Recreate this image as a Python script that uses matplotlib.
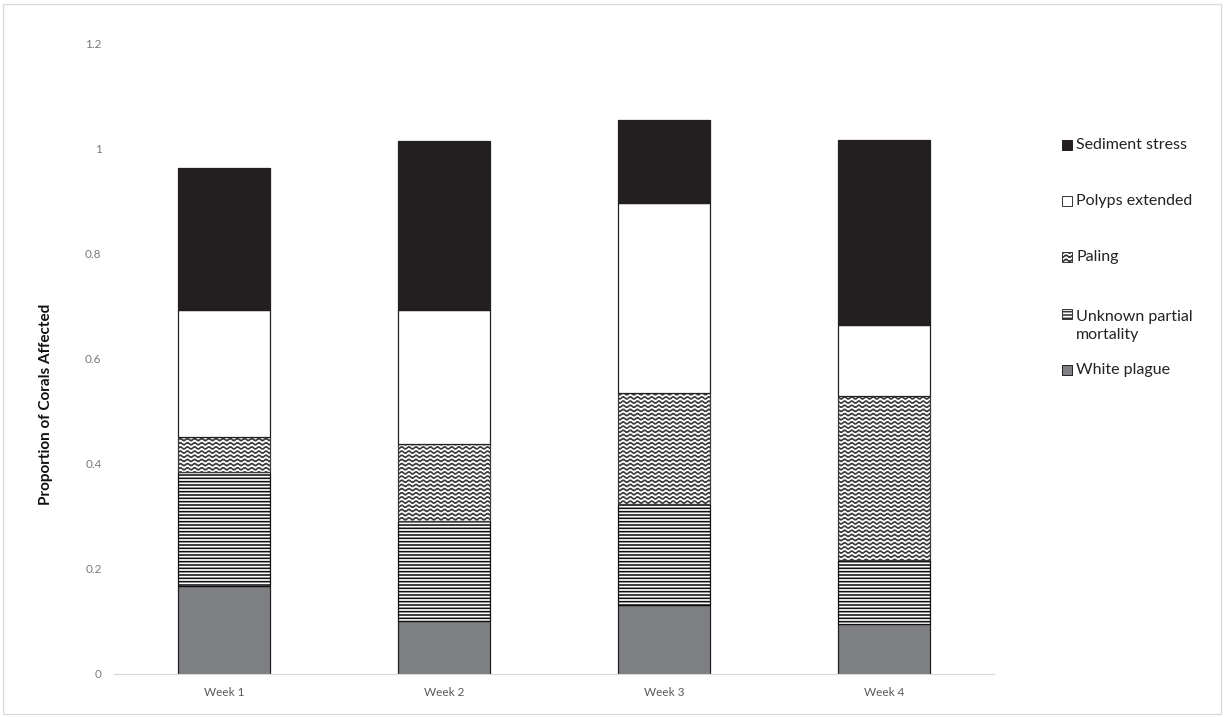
import warnings

import numpy as np
import matplotlib
matplotlib.use("Agg")
import matplotlib.pyplot as plt
import matplotlib.hatch as mhatch
from matplotlib.path import Path
from matplotlib.patches import Rectangle

warnings.filterwarnings("ignore")

# ---- data -------------------------------------------------------------
weeks = ["Week 1", "Week 2", "Week 3", "Week 4"]
white_plague = [0.167, 0.101, 0.131, 0.095]
unknown_partial_mortality = [0.217, 0.190, 0.192, 0.122]
paling = [0.067, 0.146, 0.211, 0.311]
polyps_extended = [0.242, 0.256, 0.362, 0.135]
sediment_stress = [0.270, 0.321, 0.158, 0.353]

y_ticks = [0, 0.2, 0.4, 0.6, 0.8, 1.0, 1.2]
y_tick_labels = ["0", "0.2", "0.4", "0.6", "0.8", "1", "1.2"]


# ---- a wavy hatch ('~') -------------------------------------------------
class WavyHatch(mhatch.HatchPatternBase):
    """Rows of small sine waves; each '~' adds `density` rows per tile."""

    def __init__(self, hatch, density):
        self.num_rows = hatch.count("~") * density
        self.periods = 14
        self.samples = self.periods * 6 + 1
        self.num_vertices = self.num_rows * self.samples

    def set_vertices_and_codes(self, vertices, codes):
        x = np.linspace(0.0, 1.0, self.samples)
        amp = 0.28 / self.num_rows
        for i in range(self.num_rows):
            rows = slice(i * self.samples, (i + 1) * self.samples)
            vertices[rows, 0] = x
            vertices[rows, 1] = ((i + 0.5) / self.num_rows
                                 + amp * np.sin(2 * np.pi * self.periods * x))
            codes[rows] = Path.LINETO
            codes[i * self.samples] = Path.MOVETO


mhatch._hatch_types.append(WavyHatch)

plt.rcParams["font.family"] = ["Lato", "DejaVu Sans"]
plt.rcParams["hatch.linewidth"] = 1.15

W, H = 1225, 717
fig = plt.figure(figsize=(W / 100, H / 100), dpi=100)
ax = fig.add_axes([114 / W, 43 / H, 880 / W, 631 / H])

# series drawn bottom to top: (label, values, face, edge, hatch)
series = [
    ("White plague", white_plague, "#7f8083", "#222222", None),
    ("Unknown partial\nmortality", unknown_partial_mortality, "white", "#111111", "-----"),
    ("Paling", paling, "white", "#3a3a3a", "~~~~"),
    ("Polyps extended", polyps_extended, "white", "#222222", None),
    ("Sediment stress", sediment_stress, "#231f20", "#231f20", None),
]

x = np.arange(len(weeks))
bottom = np.zeros(len(weeks))
for label, vals, face, edge, hatch in series:
    ax.bar(x, vals, width=0.415, bottom=bottom, color=face,
           edgecolor=edge, hatch=hatch, linewidth=0.9, zorder=2)
    bottom += np.asarray(vals)

ax.set_xlim(-0.5, len(weeks) - 0.5)
ax.set_ylim(0, 1.2)
ax.set_xticks(x)
ax.set_xticklabels(weeks)
ax.set_yticks(y_ticks)
ax.set_yticklabels(y_tick_labels)
ax.tick_params(axis="both", length=0, labelsize=8.5)
ax.tick_params(axis="y", pad=9, labelcolor="#7a7a7a")
ax.tick_params(axis="x", pad=9, labelcolor="#595959")
for side in ("top", "right", "left"):
    ax.spines[side].set_visible(False)
ax.spines["bottom"].set_color("#d9d9d9")
ax.spines["bottom"].set_linewidth(0.9)

fig.text(46 / W, 1 - 404 / H, "Proportion of Corals Affected",
         rotation=90, ha="center", va="center", fontsize=11,
         fontweight="bold", color="#111111")

# ---- legend (top to bottom, reversed stacking order) ----------------------
entry_rows = [145, 201, 257, 314, 370]
for (label, vals, face, edge, hatch), row in zip(series[::-1], entry_rows):
    sq = 10
    fig.patches.append(Rectangle((1062 / W, 1 - (row + sq / 2) / H), sq / W, sq / H,
                                 transform=fig.transFigure, facecolor=face,
                                 edgecolor=edge if face != "white" else "#333333",
                                 hatch=hatch, linewidth=0.7))
    n_lines = label.count("\n") + 1
    text_center = row + (n_lines - 1) * 12
    fig.text(1076 / W, 1 - text_center / H, label, ha="left", va="center",
             fontsize=11.5, color="#222222", linespacing=1.45)

# light frame around the chart area
fig.patches.append(Rectangle((3 / W, 3 / H), (W - 7) / W, (H - 7) / H,
                             transform=fig.transFigure, fill=False,
                             edgecolor="#d9d9d9", linewidth=0.9))

fig.savefig("out.png", dpi=100, facecolor="white")
